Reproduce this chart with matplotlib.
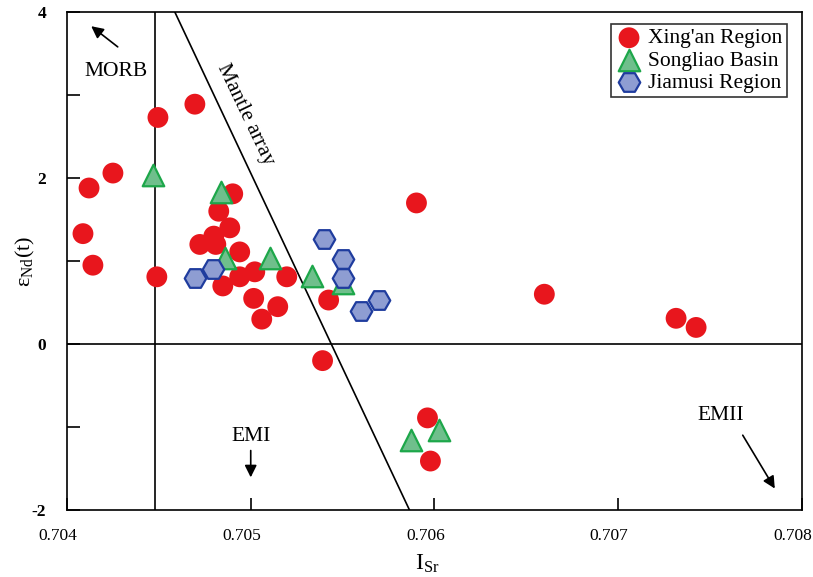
import numpy as np
import matplotlib.pyplot as plt
import matplotlib.transforms as mtransforms

plt.rcParams['font.family'] = ['Liberation Serif', 'DejaVu Serif']
plt.rcParams['mathtext.fontset'] = 'custom'
plt.rcParams['mathtext.rm'] = 'Liberation Serif'
plt.rcParams['mathtext.it'] = 'Liberation Serif'

# Xing'an Region
xingan_sr = [0.704087, 0.704120, 0.704141, 0.704250, 0.704495, 0.704489, 0.704696,
             0.704902, 0.704826, 0.704886, 0.704799, 0.704723, 0.704810, 0.704940,
             0.704848, 0.704940, 0.705022, 0.705016, 0.705060, 0.705147, 0.705196,
             0.705424, 0.705902, 0.706598, 0.707315, 0.707424, 0.705391, 0.705962,
             0.705978]
xingan_nd = [1.33, 1.88, 0.95, 2.06, 2.73, 0.81, 2.89,
             1.81, 1.60, 1.40, 1.30, 1.20, 1.20, 1.11,
             0.70, 0.81, 0.87, 0.55, 0.30, 0.45, 0.81,
             0.53, 1.70, 0.60, 0.31, 0.20, -0.20, -0.89,
             -1.41]

# Songliao Basin
songliao_sr = [0.704467, 0.704837, 0.704859, 0.705103, 0.705332, 0.705500, 0.705870, 0.706022]
songliao_nd = [2.04, 1.83, 1.04, 1.04, 0.82, 0.73, -1.16, -1.04]

# Jiamusi Region
jiamusi_sr = [0.704696, 0.704793, 0.705397, 0.705500, 0.705500, 0.705598, 0.705696]
jiamusi_nd = [0.80, 0.90, 1.27, 1.02, 0.80, 0.40, 0.53]

# reference lines
morb_sr = 0.70448
mantle_sr = [0.704587, 0.705864]
mantle_nd = [4, -2]

x_ticks = [0.704, 0.705, 0.706, 0.707, 0.708]
x_labels = ['0.704', '0.705', '0.706', '0.707', '0.708']
y_ticks = [-2, -1, 0, 1, 2, 3, 4]
y_labels = ['-2', '', '0', '', '2', '', '4']

fig = plt.figure(figsize=(8.13, 5.77), dpi=100)
ax = fig.add_axes([0.0824, 0.1161, 0.904, 0.863])

ax.axvline(morb_sr, color='black', lw=1.2, zorder=1)
ax.axhline(0, color='black', lw=1.2, zorder=1)
ax.plot(mantle_sr, mantle_nd, color='black', lw=1.2, zorder=1)

ax.scatter(xingan_sr, xingan_nd, s=225, marker='o', color='#e8161d',
           edgecolor='none', zorder=3, label="Xing'an Region")
ax.scatter(songliao_sr, songliao_nd, s=240, marker='^', color='#6fbf8c',
           edgecolor='#1da74a', linewidth=1.6, zorder=4, label='Songliao Basin')
ax.scatter(jiamusi_sr, jiamusi_nd, s=240, marker='H', color='#8e9dd2',
           edgecolor='#1f3c9e', linewidth=1.6, zorder=5, label='Jiamusi Region')

ax.set_xlim(0.704, 0.708)
ax.set_ylim(-2, 4)
ax.set_xticks(x_ticks)
ax.set_xticklabels(x_labels, fontsize=12.5)
ax.set_yticks(y_ticks)
ax.set_yticklabels(y_labels, fontsize=12.5, fontweight='bold')
ax.tick_params(direction='in', length=9, width=1.2)
ax.tick_params(axis='x', pad=13)
ax.tick_params(axis='y', pad=15)
for sp in ax.spines.values():
    sp.set_linewidth(1.2)

# x tick labels sit slightly left of their ticks in the original
shift = mtransforms.ScaledTranslation(-9 / 100, 0, fig.dpi_scale_trans)
for lab in ax.get_xticklabels():
    lab.set_transform(lab.get_transform() + shift)

ax.set_xlabel(r'I$_{\mathrm{Sr}}$', fontsize=17)
ax.xaxis.set_label_coords(0.49, -0.085)
ax.set_ylabel(r'$\mathrm{\varepsilon}_{\mathrm{Nd}}\mathrm{(t)}$', fontsize=16, labelpad=-4)

# annotations
ax.text(0.704266, 3.28, 'MORB', fontsize=15.5, ha='center', va='center')
ax.annotate('', xy=(0.704120, 3.85), xytext=(0.704288, 3.56),
            arrowprops=dict(arrowstyle='-|>', color='black', lw=1.2, mutation_scale=18))
ax.text(0.705000, -1.12, 'EMI', fontsize=15.5, ha='center', va='center')
ax.annotate('', xy=(0.705000, -1.64), xytext=(0.705000, -1.25),
            arrowprops=dict(arrowstyle='-|>', color='black', lw=1.2, mutation_scale=18))
ax.text(0.707560, -0.86, 'EMII', fontsize=15.5, ha='center', va='center')
ax.annotate('', xy=(0.707860, -1.77), xytext=(0.707670, -1.07),
            arrowprops=dict(arrowstyle='-|>', color='black', lw=1.2, mutation_scale=18))
ax.text(0.704972, 2.77, 'Mantle array', fontsize=15.5, ha='center', va='center',
        rotation=-64.5, rotation_mode='anchor')

leg = ax.legend(loc='upper right', bbox_to_anchor=(0.9796, 0.976), fontsize=15.5,
                frameon=True, fancybox=False, edgecolor='black', handletextpad=0.25,
                borderpad=0.2, labelspacing=0.1, handlelength=1.3,
                markerscale=1.0, borderaxespad=0.0)
leg.get_frame().set_linewidth(1.2)

fig.savefig('out.png', dpi=100)
